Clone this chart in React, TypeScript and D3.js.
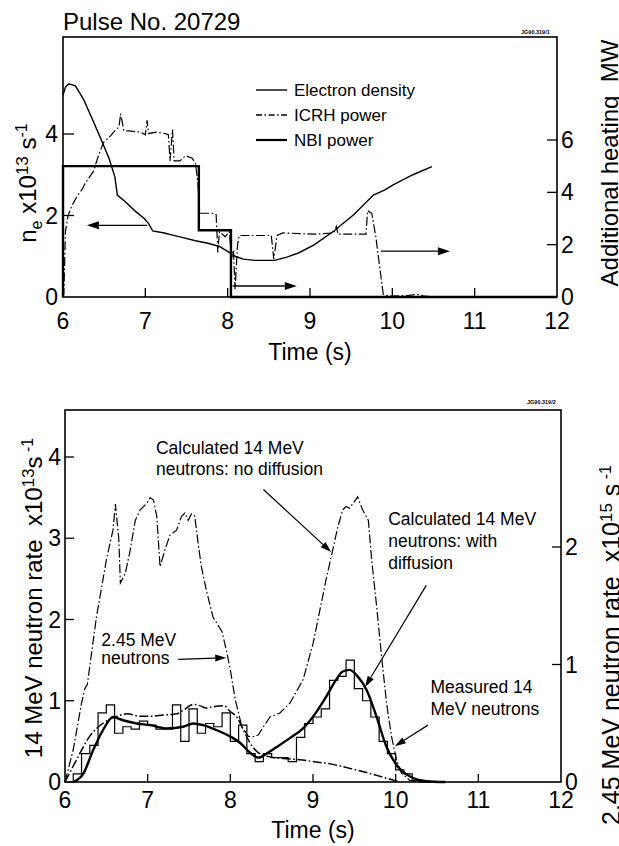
import React from 'react';
import * as d3 from 'd3';

// ---------- data ----------
const timeTicks = [6, 7, 8, 9, 10, 11, 12];
const timeInnerTicks = [7, 8, 9, 10, 11];
const densityTicks = [0, 2, 4];
const heatingTicks = [0, 2, 4, 6];
const neutron14Ticks = [0, 1, 2, 3, 4];
const neutron245Ticks = [0, 1, 2];

// top panel: electron density (x10^13), left axis
const electronDensity: [number, number][] = [
  [6.0, 4.95], [6.03, 5.15], [6.07, 5.23], [6.15, 5.18], [6.25, 4.85], [6.37, 4.3], [6.46, 3.88],
  [6.56, 3.4], [6.63, 2.95], [6.66, 2.5], [6.75, 2.35], [6.87, 2.12], [6.99, 1.92], [7.04, 1.8],
  [7.09, 1.62], [7.23, 1.57], [7.33, 1.52], [7.47, 1.45], [7.61, 1.38], [7.76, 1.32], [7.9, 1.24],
  [8.0, 1.12], [8.09, 1.0], [8.19, 0.93], [8.33, 0.9], [8.57, 0.9], [8.72, 0.98], [8.86, 1.08],
  [9.05, 1.28], [9.29, 1.62], [9.53, 2.02], [9.77, 2.5], [9.91, 2.63], [10.01, 2.75], [10.25, 3.0],
  [10.48, 3.2],
];
// ICRH power (MW), right axis
const icrhPower: [number, number][] = [
  [6.0, 0], [6.01, 0.1], [6.03, 2.5], [6.06, 3.1], [6.11, 3.5], [6.18, 3.9], [6.23, 4.1], [6.27, 4.35],
  [6.37, 4.8], [6.42, 5.3], [6.49, 5.9], [6.56, 6.1], [6.63, 6.35], [6.68, 6.5], [6.7, 7.0], [6.74, 6.35],
  [6.8, 6.35], [6.94, 6.3], [7.0, 6.2], [7.02, 6.75], [7.04, 6.25], [7.14, 6.3], [7.23, 6.25], [7.28, 6.2],
  [7.3, 5.2], [7.33, 6.4], [7.35, 5.2], [7.42, 5.2], [7.49, 5.4], [7.57, 5.3], [7.61, 5.1], [7.64, 4.3],
  [7.66, 3.2], [7.81, 3.2], [7.86, 3.15], [7.88, 1.7], [7.9, 2.5], [7.97, 2.3], [8.02, 2.5], [8.05, 1.5],
  [8.07, 1.8], [8.09, 0.3], [8.12, 2.0], [8.14, 2.35], [8.53, 2.35], [8.56, 1.45], [8.6, 2.35],
  [8.67, 2.45], [9.05, 2.4], [9.29, 2.45], [9.32, 2.7], [9.34, 2.4], [9.68, 2.4], [9.7, 3.3], [9.75, 3.2],
  [9.8, 2.3], [9.84, 1.3], [9.89, 0.1], [9.96, 0.03], [10.2, 0.06], [10.3, 0.1], [10.4, 0.03], [10.5, 0.0],
];
// NBI power (MW), right axis, stepwise
const nbiPower: [number, number][] = [
  [6.0, 0], [6.0, 5.0], [7.65, 2.55], [8.04, 0], [12.0, 0],
];

// bottom panel: calculated 14 MeV, no diffusion (x10^13), left axis
const noDiffusion: [number, number][] = [
  [6.0, 0], [6.1, 0.4], [6.2, 0.97], [6.24, 1.15], [6.27, 1.2], [6.38, 2.03], [6.5, 2.73], [6.58, 3.1],
  [6.61, 3.42], [6.65, 3.0], [6.67, 2.45], [6.73, 2.57], [6.79, 2.86], [6.85, 3.22], [6.91, 3.35],
  [6.99, 3.43], [7.03, 3.5], [7.07, 3.47], [7.11, 3.27], [7.15, 2.65], [7.21, 2.86], [7.27, 3.04],
  [7.35, 3.1], [7.41, 3.27], [7.45, 3.31], [7.49, 3.22], [7.53, 3.3], [7.57, 3.27], [7.61, 2.94],
  [7.65, 2.65], [7.71, 2.36], [7.79, 2.03], [7.9, 1.85], [7.96, 1.58], [8.0, 1.38], [8.06, 1.01],
  [8.14, 0.68], [8.22, 0.56], [8.3, 0.56], [8.34, 0.58], [8.4, 0.68], [8.48, 0.8], [8.6, 0.85],
  [8.72, 0.97], [8.88, 1.26], [9.0, 1.7], [9.16, 2.5], [9.24, 2.86], [9.3, 3.14], [9.36, 3.35],
  [9.4, 3.39], [9.44, 3.37], [9.5, 3.45], [9.54, 3.51], [9.6, 3.35], [9.67, 3.22], [9.71, 2.73],
  [9.77, 2.16], [9.83, 1.54], [9.89, 0.97], [9.95, 0.56], [10.01, 0.27], [10.07, 0.11], [10.17, 0.02],
  [10.3, 0],
];
// calculated 14 MeV, with diffusion (x10^13), left axis
const withDiffusion: [number, number][] = [
  [6.1, 0], [6.22, 0.1], [6.34, 0.39], [6.46, 0.64], [6.58, 0.8], [6.7, 0.76], [6.87, 0.72], [7.03, 0.7],
  [7.23, 0.66], [7.43, 0.68], [7.55, 0.72], [7.67, 0.7], [7.83, 0.64], [8.0, 0.56], [8.12, 0.48],
  [8.24, 0.36], [8.34, 0.3], [8.44, 0.35], [8.56, 0.43], [8.72, 0.54], [8.88, 0.66], [9.04, 0.86],
  [9.16, 1.05], [9.28, 1.26], [9.36, 1.36], [9.44, 1.38], [9.54, 1.3], [9.65, 1.13], [9.77, 0.8],
  [9.89, 0.43], [10.01, 0.21], [10.17, 0.07], [10.37, 0.01], [10.6, 0],
];
// 2.45 MeV neutrons (x10^15), right axis
const neutrons245: [number, number][] = [
  [6.0, 0], [6.14, 0.19], [6.3, 0.39], [6.46, 0.5], [6.63, 0.56], [6.75, 0.58], [6.91, 0.56], [7.03, 0.56],
  [7.19, 0.57], [7.35, 0.58], [7.43, 0.61], [7.55, 0.66], [7.63, 0.65], [7.71, 0.63], [7.79, 0.64],
  [7.92, 0.65], [8.0, 0.6], [8.08, 0.55], [8.16, 0.44], [8.24, 0.33], [8.32, 0.26], [8.44, 0.22],
  [8.64, 0.2], [8.84, 0.19], [9.04, 0.17], [9.24, 0.15], [9.48, 0.11], [9.7, 0.07], [9.9, 0.03], [10.05, 0],
];
// measured 14 MeV neutrons, histogram (bin start times, values x10^13)
const measuredTimes = [
  6.0, 6.1, 6.2, 6.3, 6.4, 6.5, 6.6, 6.7, 6.8, 6.9, 7.0, 7.1, 7.2, 7.3, 7.4, 7.5, 7.6, 7.7, 7.8, 7.9,
  8.0, 8.1, 8.2, 8.3, 8.4, 8.5, 8.6, 8.7, 8.8, 8.9, 9.0, 9.1, 9.2, 9.3, 9.4, 9.5, 9.6, 9.7, 9.8, 9.9,
  10.0, 10.1, 10.2, 10.3, 10.4,
];
const measuredValues = [
  0, 0.1, 0.35, 0.45, 0.85, 0.95, 0.6, 0.68, 0.65, 0.75, 0.7, 0.65, 0.65, 0.95, 0.5, 0.9, 0.6, 0.72, 0.68, 0.85,
  0.5, 0.7, 0.35, 0.25, 0.35, 0.3, 0.3, 0.25, 0.55, 0.72, 0.8, 0.9, 1.25, 1.3, 1.5, 1.15, 1.0, 0.8, 0.5, 0.35,
  0.15, 0.1, 0.02, 0, 0,
];

const legendItems = ['Electron density', 'ICRH power', 'NBI power'];

const FONT = "'Liberation Sans', Arial, Helvetica, sans-serif";
const DASHDOT = '9,2.5,1.6,2.5';

function Arrow({ x1, y1, x2, y2, len = 12, half = 4, sw = 1.3 }:
  { x1: number; y1: number; x2: number; y2: number; len?: number; half?: number; sw?: number }) {
  const a = Math.atan2(y2 - y1, x2 - x1);
  const bx = x2 - len * Math.cos(a);
  const by = y2 - len * Math.sin(a);
  const px = -Math.sin(a) * half;
  const py = Math.cos(a) * half;
  return (
    <g>
      <line x1={x1} y1={y1} x2={bx} y2={by} stroke="#000" strokeWidth={sw} />
      <polygon points={`${x2},${y2} ${bx + px},${by + py} ${bx - px},${by - py}`} fill="#000" />
    </g>
  );
}

export default function App() {
  // ---- top panel scales ----
  const xT = d3.scaleLinear().domain([6, 12]).range([63, 557]);
  const yTL = d3.scaleLinear().domain([0, 4]).range([297, 134]);
  const yTR = d3.scaleLinear().domain([0, 6]).range([297, 140]);
  const topFrameY = 37;
  // ---- bottom panel scales ----
  const xB = d3.scaleLinear().domain([6, 12]).range([65, 561]);
  const yBL = d3.scaleLinear().domain([0, 4]).range([782, 457]);
  const yBR = d3.scaleLinear().domain([0, 2]).range([782, 547]);
  const botFrameY = 410;

  const lineEd = d3.line<[number, number]>().x(d => xT(d[0])).y(d => yTL(d[1]));
  const lineIcrh = d3.line<[number, number]>().x(d => xT(d[0])).y(d => yTR(d[1]));
  const lineNbi = d3.line<[number, number]>().x(d => xT(d[0])).y(d => yTR(d[1])).curve(d3.curveStepAfter);

  const lineNoDiff = d3.line<[number, number]>().x(d => xB(d[0])).y(d => yBL(d[1]));
  const lineWithDiff = d3.line<[number, number]>().x(d => xB(d[0])).y(d => yBL(d[1])).curve(d3.curveMonotoneX);
  const line245 = d3.line<[number, number]>().x(d => xB(d[0])).y(d => yBR(d[1])).curve(d3.curveMonotoneX);
  const measuredPts: [number, number][] = measuredTimes.map((t, i) => [t, measuredValues[i]]);
  const lineMeasured = d3.line<[number, number]>().x(d => xB(d[0])).y(d => yBL(d[1])).curve(d3.curveStepAfter);

  const tickFont = 23;

  return (
    <svg width={619} height={846} style={{ position: 'absolute', left: 0, top: 0, background: '#fff' }}
      fontFamily={FONT}>
      <rect x={0} y={0} width={619} height={846} fill="#fff" />

      {/* ================= TOP PANEL ================= */}
      <text x={63} y={30} fontSize={24}>Pulse No. 20729</text>
      <text x={521} y={34} fontSize={5.5} fontWeight="bold">JG90.319/1</text>
      <rect x={xT(6)} y={topFrameY} width={xT(12) - xT(6)} height={yTL(0) - topFrameY}
        fill="none" stroke="#000" strokeWidth={1.6} />

      {timeInnerTicks.map(t => (
        <line key={'tt' + t} x1={xT(t)} x2={xT(t)} y1={yTL(0)} y2={yTL(0) - 9} stroke="#000" strokeWidth={1.3} />
      ))}
      {densityTicks.filter(v => v > 0).map(v => (
        <line key={'td' + v} x1={xT(6)} x2={xT(6) + 11} y1={yTL(v)} y2={yTL(v)} stroke="#000" strokeWidth={1.3} />
      ))}
      {heatingTicks.filter(v => v > 0).map(v => (
        <line key={'th' + v} x1={xT(12)} x2={xT(12) - 10} y1={yTR(v)} y2={yTR(v)} stroke="#000" strokeWidth={1.3} />
      ))}
      {timeTicks.map(t => (
        <text key={'tl' + t} x={xT(t)} y={329} fontSize={tickFont} textAnchor="middle">{t}</text>
      ))}
      {densityTicks.map(v => (
        <text key={'dl' + v} x={xT(6) - 5} y={yTL(v) + 8} fontSize={tickFont} textAnchor="end">{v}</text>
      ))}
      {heatingTicks.map(v => (
        <text key={'hl' + v} x={xT(12) + 4} y={yTR(v) + 8} fontSize={tickFont} textAnchor="start">{v}</text>
      ))}
      <text x={(xT(6) + xT(12)) / 2} y={360} fontSize={23} textAnchor="middle">Time (s)</text>
      <text transform="translate(36,183) rotate(-90)" fontSize={24} textAnchor="middle">
        n<tspan fontSize={16} dy={6}>e</tspan>
        <tspan dy={-6}>{'  x10'}</tspan>
        <tspan fontSize={17} dy={-8}>13</tspan>
        <tspan dy={8}>{' s'}</tspan>
        <tspan fontSize={16} dy={-9}>-1</tspan>
      </text>
      <text transform="translate(618,163) rotate(-90)" fontSize={24} textAnchor="middle">
        Additional heating{'\u00a0\u00a0'}MW
      </text>

      {/* series */}
      <path d={lineNbi(nbiPower) || ''} fill="none" stroke="#000" strokeWidth={2.4} />
      <path d={lineIcrh(icrhPower) || ''} fill="none" stroke="#000" strokeWidth={1.2} strokeDasharray={DASHDOT} />
      <path d={lineEd(electronDensity) || ''} fill="none" stroke="#000" strokeWidth={1.4} />

      {/* arrows */}
      <Arrow x1={xT(7.02)} y1={yTL(1.76)} x2={xT(6.29)} y2={yTL(1.76)} />
      <Arrow x1={xT(8.06)} y1={yTR(0.42)} x2={xT(8.84)} y2={yTR(0.42)} />
      <Arrow x1={xT(9.86)} y1={yTR(1.75)} x2={xT(10.7)} y2={yTR(1.75)} />

      {/* legend */}
      {legendItems.map((name, i) => {
        const ly = 90 + i * 25;
        return (
          <g key={name}>
            <line x1={256} x2={287} y1={ly} y2={ly} stroke="#000"
              strokeWidth={i === 2 ? 2.2 : 1.4} strokeDasharray={i === 1 ? '6,2.5,1.6,2.5' : undefined} />
            <text x={294} y={ly + 6} fontSize={17}>{name}</text>
          </g>
        );
      })}

      {/* ================= BOTTOM PANEL ================= */}
      <text x={527} y={404} fontSize={5.5} fontWeight="bold">JG90.319/2</text>
      <rect x={xB(6)} y={botFrameY} width={xB(12) - xB(6)} height={yBL(0) - botFrameY}
        fill="none" stroke="#000" strokeWidth={1.6} />
      {timeInnerTicks.map(t => (
        <line key={'bt' + t} x1={xB(t)} x2={xB(t)} y1={yBL(0)} y2={yBL(0) - 8} stroke="#000" strokeWidth={1.3} />
      ))}
      {neutron14Ticks.filter(v => v > 0).map(v => (
        <line key={'bn' + v} x1={xB(6)} x2={xB(6) + 9} y1={yBL(v)} y2={yBL(v)} stroke="#000" strokeWidth={1.3} />
      ))}
      {neutron245Ticks.filter(v => v > 0).map(v => (
        <line key={'br' + v} x1={xB(12)} x2={xB(12) - 9} y1={yBR(v)} y2={yBR(v)} stroke="#000" strokeWidth={1.3} />
      ))}
      {timeTicks.map(t => (
        <text key={'btl' + t} x={xB(t)} y={808} fontSize={tickFont} textAnchor="middle">{t}</text>
      ))}
      {neutron14Ticks.map(v => (
        <text key={'bnl' + v} x={xB(6) - 4} y={yBL(v) + 8} fontSize={tickFont} textAnchor="end">{v}</text>
      ))}
      {neutron245Ticks.map(v => (
        <text key={'brl' + v} x={xB(12) + 4} y={yBR(v) + 8} fontSize={tickFont} textAnchor="start">{v}</text>
      ))}
      <text x={(xB(6) + xB(12)) / 2} y={838} fontSize={23} textAnchor="middle">Time (s)</text>
      <text transform="translate(42,598) rotate(-90)" fontSize={24} textAnchor="middle">
        14 MeV neutron rate{'\u00a0\u00a0'}x10
        <tspan fontSize={17} dy={-8}>13</tspan>
        <tspan dy={8}>s</tspan>
        <tspan fontSize={16} dy={-9}>{' -1'}</tspan>
      </text>
      <text transform="translate(620,645) rotate(-90)" fontSize={25} textAnchor="middle">
        2.45 MeV neutron rate{'\u00a0\u00a0'}x10
        <tspan fontSize={17} dy={-8}>15</tspan>
        <tspan dy={8}>{' s'}</tspan>
        <tspan fontSize={16} dy={-9}>{' -1'}</tspan>
      </text>

      {/* series */}
      <path d={lineNoDiff(noDiffusion) || ''} fill="none" stroke="#000" strokeWidth={1.2} strokeDasharray={DASHDOT} />
      <path d={line245(neutrons245) || ''} fill="none" stroke="#000" strokeWidth={1.5} strokeDasharray={DASHDOT} />
      <path d={lineMeasured(measuredPts) || ''} fill="none" stroke="#000" strokeWidth={1.2} />
      <path d={lineWithDiff(withDiffusion) || ''} fill="none" stroke="#000" strokeWidth={2.4} />

      {/* annotations */}
      <g fontSize={17.5}>
        <text x={xB(7.1)} y={yBL(4.04)}>Calculated 14 MeV</text>
        <text x={xB(7.1)} y={yBL(3.78)}>neutrons: no diffusion</text>
        <text x={xB(9.91)} y={yBL(3.16)}>Calculated 14 MeV</text>
        <text x={xB(9.91)} y={yBL(2.89)}>neutrons: with</text>
        <text x={xB(9.91)} y={yBL(2.62)}>diffusion</text>
        <text x={xB(6.44)} y={yBL(1.68)}>2.45 MeV</text>
        <text x={xB(6.44)} y={yBL(1.45)}>neutrons</text>
        <text x={xB(10.42)} y={yBL(1.1)}>Measured 14</text>
        <text x={xB(10.42)} y={yBL(0.82)}>MeV neutrons</text>
      </g>
      <Arrow x1={xB(8.4)} y1={yBL(3.6)} x2={xB(9.22)} y2={yBL(2.83)} len={11} half={3.5} sw={1.2} />
      <Arrow x1={xB(10.37)} y1={yBL(2.42)} x2={xB(9.63)} y2={yBL(1.17)} len={11} half={3.5} sw={1.2} />
      <Arrow x1={xB(7.37)} y1={yBL(1.51)} x2={xB(7.95)} y2={yBL(1.53)} len={11} half={3.5} sw={1.2} />
      <Arrow x1={xB(10.39)} y1={yBL(0.7)} x2={xB(9.99)} y2={yBL(0.44)} len={11} half={3.5} sw={1.2} />
    </svg>
  );
}
